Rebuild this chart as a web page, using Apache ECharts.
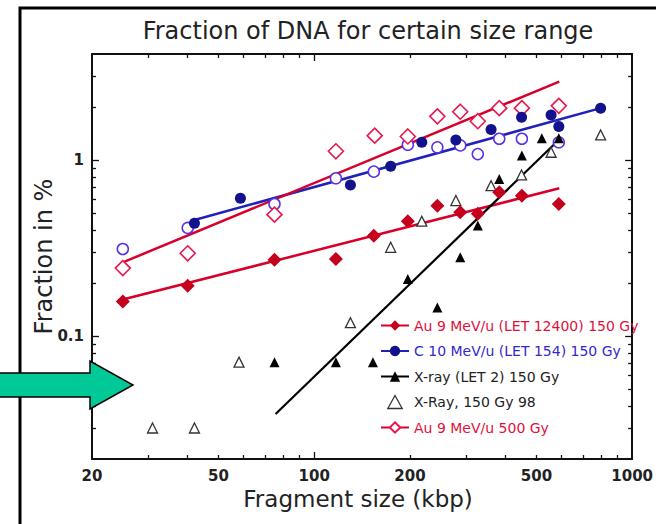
<!DOCTYPE html>
<html>
<head>
<meta charset="utf-8">
<script src="https://cdn.jsdelivr.net/npm/echarts@6/dist/echarts.min.js"></script>
<style>html,body{margin:0;padding:0;background:#fff;}#c{width:656px;height:524px;}</style>
</head>
<body>
<div id="c"></div>
<script>
// ---- tick values ----
const xLabelValues = [20, 50, 100, 200, 500, 1000];
const xMinorTicks = [30, 40, 50, 60, 70, 80, 90, 200, 300, 400, 500, 600, 700, 800, 900];
const xMajorTicks = [100];
const yLabelValues = [0.1, 1];
const yMinorTicks = [0.03, 0.04, 0.05, 0.06, 0.07, 0.08, 0.09, 0.2, 0.3, 0.4, 0.5, 0.6, 0.7, 0.8, 0.9, 2, 3];
const yMajorTicks = [0.1, 1];

// ---- series names ----
const nameAu150 = 'Au 9 MeV/u (LET 12400) 150 Gy';
const nameC = 'C 10 MeV/u (LET 154) 150 Gy';
const nameXray = 'X-ray (LET 2) 150 Gy';
const nameXray98 = 'X-Ray, 150 Gy 98';
const nameAu500 = 'Au 9 MeV/u 500 Gy';
const nameCopen = 'C 10 MeV/u (open symbols)';

// ---- data ----
const au150X = [25, 40, 75, 117, 154, 197, 244, 288, 327, 382, 450, 588];
const au150Y = [0.157, 0.193, 0.271, 0.274, 0.371, 0.449, 0.55, 0.505, 0.494, 0.655, 0.627, 0.562];
const au150FitX = [25, 590];
const au150FitY = [0.161, 0.69];

const au500X = [25, 40, 75, 117, 155, 197, 244, 288, 327, 382, 450, 588];
const au500Y = [0.243, 0.295, 0.489, 1.12, 1.374, 1.36, 1.77, 1.88, 1.66, 1.97, 1.97, 2.03];
const au500FitX = [25, 590];
const au500FitY = [0.262, 2.79];

const cX = [42, 58.6, 130, 174, 218, 279, 360, 449, 556, 588, 796];
const cY = [0.437, 0.606, 0.721, 0.921, 1.26, 1.30, 1.49, 1.75, 1.80, 1.55, 1.97];
const cFitX = [42, 796];
const cFitY = [0.456, 1.97];

const cOpenX = [25, 40, 75, 117, 154, 197, 244, 288, 327, 382, 450, 588];
const cOpenY = [0.312, 0.411, 0.562, 0.787, 0.858, 1.22, 1.18, 1.21, 1.08, 1.32, 1.32, 1.26];

const xrayX = [75, 117, 153, 197, 244, 288, 327, 382, 450, 520, 588];
const xrayY = [0.071, 0.071, 0.071, 0.211, 0.145, 0.28, 0.424, 0.78, 1.06, 1.33, 1.33];
const xrayFitX = [75.6, 593];
const xrayFitY = [0.036, 1.32];

const xray98X = [31, 42, 58, 130, 174, 218, 279, 360, 449, 556, 796];
const xray98Y = [0.030, 0.030, 0.071, 0.119, 0.319, 0.449, 0.588, 0.714, 0.822, 1.106, 1.387];

function pairs(xs, ys) { return xs.map((x, i) => [x, ys[i]]); }

const FONT = 'DejaVu Sans';
const grid = { left: 92, top: 54, width: 541, height: 405 };

function xAxisDef(pos, showLabel, ticks, len, showLine) {
  return {
    type: 'log', logBase: 10, min: 20, max: 1000, position: pos, gridIndex: 0,
    axisLine: { show: showLine, onZero: false, lineStyle: { color: '#111', width: 2 } },
    axisTick: { show: true, inside: true, length: len, customValues: ticks, lineStyle: { color: '#111', width: 1.3 } },
    minorTick: { show: false },
    splitLine: { show: false },
    axisLabel: showLabel ? {
      show: true, customValues: xLabelValues, margin: 9,
      fontFamily: FONT, fontSize: 15, fontWeight: 'bold', color: '#222',
      formatter: v => String(Math.round(v))
    } : { show: false },
    name: showLabel ? 'Fragment size (kbp)' : '',
    nameLocation: 'middle', nameGap: 28, nameMoveOverlap: false,
    nameTextStyle: { fontFamily: FONT, fontSize: 23, color: '#222', padding: [0, 8, 0, 0] }
  };
}
function yAxisDef(pos, showLabel, ticks, len, showLine) {
  return {
    type: 'log', logBase: 10, min: 0.02, max: 4, position: pos, gridIndex: 0,
    axisLine: { show: showLine, onZero: false, lineStyle: { color: '#111', width: 2 } },
    axisTick: { show: true, inside: true, length: len, customValues: ticks, lineStyle: { color: '#111', width: 1.3 } },
    minorTick: { show: false },
    splitLine: { show: false },
    axisLabel: showLabel ? {
      show: true, customValues: yLabelValues, margin: 8,
      fontFamily: FONT, fontSize: 15, fontWeight: 'bold', color: '#222',
      formatter: v => (v < 1 ? String(Math.round(v * 10) / 10) : String(Math.round(v)))
    } : { show: false },
    name: showLabel ? 'Fraction in %' : '',
    nameLocation: 'middle', nameGap: 36, nameRotate: 90, nameMoveOverlap: false,
    nameTextStyle: { fontFamily: FONT, fontSize: 24, color: '#222' }
  };
}

const RED_FILL = '#c4001c';
const RED_LINE = '#d8002a';
const RED_OPEN = '#e8174f';
const BLUE_FILL = '#12128c';
const BLUE_LINE = '#2020bb';
const BLUE_OPEN = '#5a30e6';

function fitLine(name, xs, ys, color, symbol, itemStyle, width) {
  return {
    type: 'line', name: name, data: pairs(xs, ys), showSymbol: false, symbol: symbol,
    lineStyle: { color: color, width: width }, itemStyle: itemStyle, silent: true, z: 2,
    xAxisIndex: 0, yAxisIndex: 0, animation: false
  };
}
function scatter(name, xs, ys, symbol, size, itemStyle) {
  return {
    type: 'scatter', name: name, data: pairs(xs, ys), symbol: symbol, symbolSize: size,
    itemStyle: Object.assign({ opacity: 1 }, itemStyle), z: 3, xAxisIndex: 0, yAxisIndex: 0, animation: false
  };
}

const chart = echarts.init(document.getElementById('c'), null, { renderer: 'svg' });
chart.setOption({
  animation: false,
  backgroundColor: '#fff',
  title: {
    text: 'Fraction of DNA for certain size range',
    left: 363, top: 14, textAlign: 'center',
    textStyle: { fontFamily: FONT, fontSize: 24, fontWeight: 'normal', color: '#222' }
  },
  grid: grid,
  xAxis: [
    xAxisDef('bottom', true, xMinorTicks, 4, true),
    xAxisDef('top', false, xMinorTicks, 4, true),
    xAxisDef('bottom', false, xMajorTicks, 7, false),
    xAxisDef('top', false, xMajorTicks, 7, false)
  ],
  yAxis: [
    yAxisDef('left', true, yMinorTicks, 4, true),
    yAxisDef('right', false, yMinorTicks, 4, true),
    yAxisDef('left', false, yMajorTicks, 7, false),
    yAxisDef('right', false, yMajorTicks, 7, false)
  ],
  legend: {
    orient: 'vertical', left: 380, top: 318, padding: 0,
    itemWidth: 28, itemHeight: 13, itemGap: 10.5,
    selectedMode: false, symbolKeepAspect: true,
    textStyle: { fontFamily: FONT, fontSize: 14, lineHeight: 15 },
    data: [
      { name: nameAu150, textStyle: { color: '#e0103c' } },
      { name: nameC, textStyle: { color: '#3328cc' } },
      { name: nameXray, textStyle: { color: '#222' } },
      { name: nameXray98, icon: 'path://M5,0L10,9L0,9Z', textStyle: { color: '#222' },
        itemStyle: { color: '#fff', borderColor: '#333', borderWidth: 1.3 } },
      { name: nameAu500, textStyle: { color: '#e0103c' } }
    ]
  },
  series: [
    fitLine(nameAu150, au150FitX, au150FitY, RED_LINE, 'diamond', { color: RED_FILL }, 2.5),
    fitLine(nameC, cFitX, cFitY, BLUE_LINE, 'circle', { color: BLUE_FILL }, 2.5),
    fitLine(nameXray, xrayFitX, xrayFitY, '#000', 'triangle', { color: '#000' }, 2.2),
    fitLine(nameAu500, au500FitX, au500FitY, RED_LINE, 'diamond', { color: '#fff', borderColor: RED_OPEN, borderWidth: 1.6 }, 2.5),
    scatter(nameCopen, cOpenX, cOpenY, 'circle', 11, { color: '#fff', borderColor: BLUE_OPEN, borderWidth: 1.5 }),
    scatter(nameXray98, xray98X, xray98Y, 'triangle', 10, { color: '#fff', borderColor: '#333', borderWidth: 1.3 }),
    scatter(nameAu500, au500X, au500Y, 'diamond', 15, { color: '#fff', borderColor: RED_OPEN, borderWidth: 1.6 }),
    scatter(nameAu150, au150X, au150Y, 'diamond', 14, { color: RED_FILL }),
    scatter(nameC, cX, cY, 'circle', 11, { color: BLUE_FILL }),
    scatter(nameXray, xrayX, xrayY, 'triangle', 10, { color: '#000' })
  ],
  graphic: [
    { type: 'rect', z: 100, silent: true,
      shape: { x: 20, y: 8, width: 700, height: 600 },
      style: { fill: 'none', stroke: '#000', lineWidth: 3 } },
    { type: 'polygon', z: 101, silent: true,
      shape: { points: [[-2, 373], [90, 373], [90, 361], [133, 385], [90, 409], [90, 397], [-2, 397]] },
      style: { fill: '#00c896', stroke: '#000', lineWidth: 1.5 } }
  ]
});
</script>
</body>
</html>
